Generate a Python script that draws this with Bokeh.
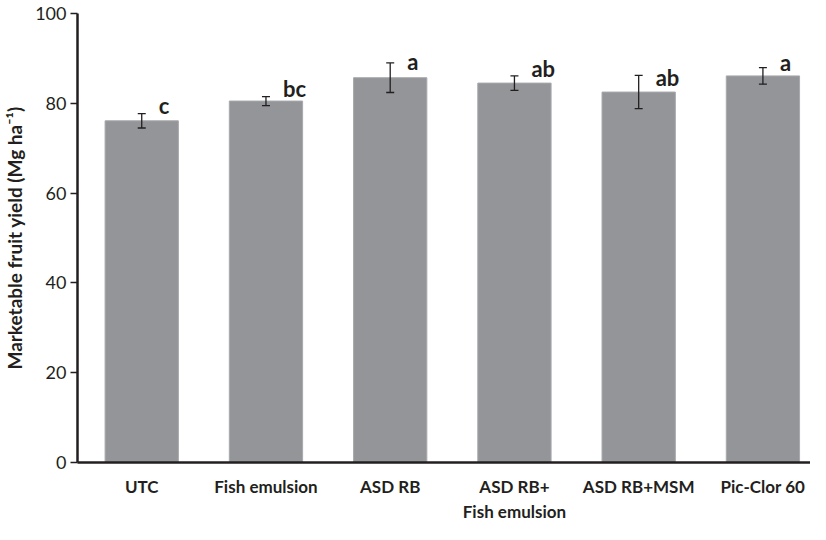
from bokeh.plotting import figure
from bokeh.models import ColumnDataSource, Range1d, FixedTicker, Whisker
from bokeh.core.properties import value
from bokeh.embed import file_html
from bokeh.resources import INLINE

categories = ["UTC", "Fish emulsion", "ASD RB", "ASD RB+\nFish emulsion", "ASD RB+MSM", "Pic-Clor 60"]
means = [76.1, 80.5, 85.7, 84.5, 82.5, 86.1]
errors = [1.6, 1.0, 3.3, 1.6, 3.7, 1.85]
letters = ["c", "bc", "a", "ab", "ab", "a"]
letter_base = [79.5, 83.4, 89.3, 87.8, 85.7, 89.1]
y_ticks = [0, 20, 40, 60, 80, 100]

idx = list(range(len(categories)))
src = ColumnDataSource(dict(
    x=idx, top=means,
    upper=[m + e for m, e in zip(means, errors)],
    lower=[m - e for m, e in zip(means, errors)],
    lab=letters, ly=letter_base,
))

FONT = "Lato"
DARK = "#231f20"

p = figure(width=810, height=524, output_backend="svg", toolbar_location=None,
           x_range=Range1d(-0.517, 5.383), y_range=Range1d(0, 100),
           min_border_left=69, min_border_right=0, min_border_top=13, min_border_bottom=42)
p.outline_line_color = None
p.grid.grid_line_color = None

p.vbar(x="x", top="top", bottom=0, width=0.59, source=src,
       fill_color="#939598", line_color="#a7a9ac", line_width=1)

w = Whisker(source=src, base="x", upper="upper", lower="lower", level="overlay",
            line_color=DARK, line_width=1.3)
for h in (w.upper_head, w.lower_head):
    h.size = 8
    h.line_color = DARK
    h.line_width = 1.3
p.add_layout(w)

p.text(x="x", y="ly", text="lab", source=src, x_offset=17,
       text_align="left", text_baseline="alphabetic",
       text_font=value(FONT), text_font_style="bold", text_font_size="22px",
       text_color=DARK)

# y axis
ya = p.yaxis[0]
ya.ticker = FixedTicker(ticks=y_ticks)
ya.axis_line_width = 2.5
ya.axis_line_color = DARK
ya.major_tick_line_color = DARK
ya.major_tick_line_width = 1.5
ya.major_tick_out = 7
ya.major_tick_in = 0
ya.minor_tick_line_color = None
ya.major_label_text_font = FONT
ya.major_label_text_font_size = "18px"
ya.major_label_text_color = DARK
ya.major_label_standoff = 4
ya.axis_label = "Marketable fruit yield (Mg ha\u207b\u00b9)"
ya.axis_label_text_font = FONT
ya.axis_label_text_font_style = "bold"
ya.axis_label_text_font_size = "19px"
ya.axis_label_text_color = DARK
ya.axis_label_standoff = 6

# x axis
xa = p.xaxis[0]
xa.ticker = FixedTicker(ticks=idx)
xa.major_label_overrides = {i: c for i, c in zip(idx, categories)}
xa.axis_line_width = 2.5
xa.axis_line_color = DARK
xa.major_tick_line_color = None
xa.minor_tick_line_color = None
xa.major_label_text_font = FONT
xa.major_label_text_font_style = "bold"
xa.major_label_text_font_size = "17px"
xa.major_label_text_color = DARK
xa.major_label_standoff = 7

open("out.html", "w").write(file_html(p, INLINE))
